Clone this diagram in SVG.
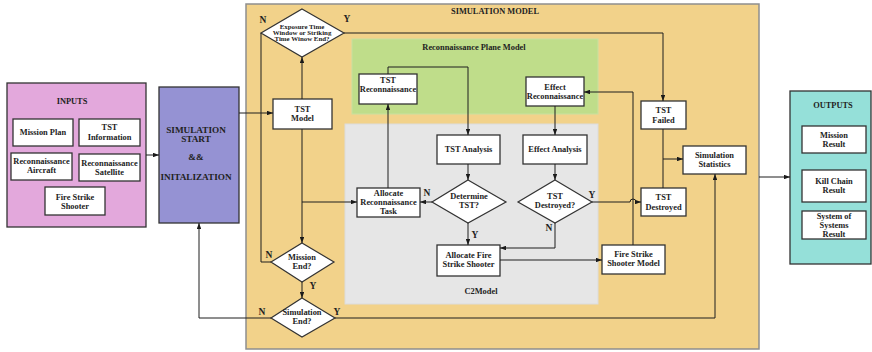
<svg xmlns="http://www.w3.org/2000/svg" width="872" height="352" viewBox="0 0 872 352">
  <defs>
    <marker id="arr" viewBox="0 0 8 6" refX="8" refY="3" markerWidth="6" markerHeight="4.5" markerUnits="userSpaceOnUse" orient="auto">
      <path d="M0,0 L8,3 L0,6 z" fill="#1a1a1a"/>
    </marker>
  </defs>
  <style>
    text { font-family: "Liberation Serif", "Times New Roman", serif; font-weight: bold; fill: #222; text-anchor: middle; }
    .t { font-size: 8.4px; }
    .s { font-size: 6.9px; }
    .h { font-size: 9.2px; }
    .lab { font-size: 9.5px; }
    .box { fill: #ffffff; stroke: #333; stroke-width: 1.3; }
    .dia { fill: #ffffff; stroke: #333; stroke-width: 1.2; }
    .edge { fill: none; stroke: #1f1f1f; stroke-width: 1; }
  </style>

  <!-- containers -->
  <g id="simulation-model">
    <rect x="246" y="4" width="513" height="345" fill="#f2d28a" stroke="#8e8e8e" stroke-width="1.5"/>
    <text class="t" x="495" y="14">SIMULATION   MODEL</text>
  </g>
  <g id="recon-plane-model">
    <rect x="352" y="39" width="246" height="75" fill="#bfdd8a" stroke="#c8e0a0" stroke-width="1"/>
    <text class="t" x="474" y="50">Reconnaissance Plane Model</text>
  </g>
  <g id="c2-model">
    <rect x="345" y="124" width="253" height="180" fill="#e6e6e6" stroke="#dcdcdc" stroke-width="1"/>
    <text class="t" x="481" y="294">C2Model</text>
  </g>

  <!-- inputs -->
  <g id="inputs">
    <rect x="7" y="83" width="139" height="144" fill="#e3a8dc" stroke="#333" stroke-width="1.3"/>
    <text class="t" x="72" y="104">INPUTS</text>
  </g>
  <g id="mission-plan">
    <rect class="box" x="13" y="119" width="60" height="27"/>
    <text class="t" x="43" y="135">Mission Plan</text>
  </g>
  <g id="tst-information">
    <rect class="box" x="79" y="119" width="61" height="27"/>
    <text class="t" x="109.5" y="130">TST</text>
    <text class="t" x="109.5" y="140">Information</text>
  </g>
  <g id="recon-aircraft">
    <rect class="box" x="11" y="153" width="61" height="27"/>
    <text class="t" x="41.5" y="164">Reconnaissance</text>
    <text class="t" x="41.5" y="173">Aircraft</text>
  </g>
  <g id="recon-satellite">
    <rect class="box" x="79" y="154" width="61" height="27"/>
    <text class="t" x="109.5" y="166">Reconnaissance</text>
    <text class="t" x="109.5" y="175">Satellite</text>
  </g>
  <g id="fire-strike-shooter">
    <rect class="box" x="45" y="187" width="60" height="28"/>
    <text class="t" x="75" y="200">Fire Strike</text>
    <text class="t" x="75" y="209">Shooter</text>
  </g>

  <!-- simulation start -->
  <g id="simulation-start">
    <rect x="159" y="87" width="80" height="136" fill="#9592d3" stroke="#333" stroke-width="1.3"/>
    <text class="h" x="196" y="133">SIMULATION</text>
    <text class="h" x="196" y="142">START</text>
    <text class="h" x="196" y="160">&amp;&amp;</text>
    <text class="h" x="196" y="180">INITALIZATION</text>
  </g>

  <!-- simulation model nodes -->
  <g id="exposure-end">
    <polygon class="dia" points="302,9 344,33 302,57 261,33"/>
    <text class="s" x="302" y="29">Exposure Time</text>
    <text class="s" x="302" y="35">Window or Striking</text>
    <text class="s" x="302" y="41">Time Winow End?</text>
  </g>
  <g id="tst-model">
    <rect class="box" x="273" y="99" width="59" height="30"/>
    <text class="t" x="302.5" y="112">TST</text>
    <text class="t" x="302.5" y="121">Model</text>
  </g>
  <g id="mission-end">
    <polygon class="dia" points="302,243 334,262 302,282 271,262"/>
    <text class="t" x="302" y="260">Mission</text>
    <text class="t" x="302" y="269">End?</text>
  </g>
  <g id="simulation-end">
    <polygon class="dia" points="302,298 335,318 302,337 271,318"/>
    <text class="t" x="302" y="315">Simulation</text>
    <text class="t" x="302" y="324">End?</text>
  </g>
  <g id="tst-reconnaissance">
    <rect class="box" x="359" y="74" width="58" height="30"/>
    <text class="t" x="388" y="83">TST</text>
    <text class="t" x="388" y="92">Reconnaissance</text>
  </g>
  <g id="effect-reconnaissance">
    <rect class="box" x="526" y="77" width="58" height="29"/>
    <text class="t" x="555" y="90">Effect</text>
    <text class="t" x="555" y="99">Reconnaissance</text>
  </g>
  <g id="tst-analysis">
    <rect class="box" x="437" y="135" width="63" height="29"/>
    <text class="t" x="468.5" y="152">TST Analysis</text>
  </g>
  <g id="effect-analysis">
    <rect class="box" x="523" y="135" width="64" height="29"/>
    <text class="t" x="555" y="152">Effect Analysis</text>
  </g>
  <g id="determine-tst">
    <polygon class="dia" points="468,180 506,202 468,223 432,202"/>
    <text class="t" x="469" y="199">Determine</text>
    <text class="t" x="469" y="208">TST?</text>
  </g>
  <g id="tst-destroyed-q">
    <polygon class="dia" points="555,180 592,202 555,223 518,202"/>
    <text class="t" x="555" y="199">TST</text>
    <text class="t" x="555" y="208">Destroyed?</text>
  </g>
  <g id="allocate-recon-task">
    <rect class="box" x="357" y="188" width="63" height="29"/>
    <text class="t" x="388.5" y="196">Allocate</text>
    <text class="t" x="388.5" y="205">Reconnaissance</text>
    <text class="t" x="388.5" y="214">Task</text>
  </g>
  <g id="allocate-fire-strike">
    <rect class="box" x="437" y="245" width="63" height="31"/>
    <text class="t" x="468.5" y="258">Allocate Fire</text>
    <text class="t" x="468.5" y="267">Strike Shooter</text>
  </g>
  <g id="fire-strike-shooter-model">
    <rect class="box" x="602" y="245" width="63" height="29"/>
    <text class="t" x="633.5" y="257">Fire Strike</text>
    <text class="t" x="633.5" y="266">Shooter Model</text>
  </g>
  <g id="tst-failed">
    <rect class="box" x="641" y="101" width="45" height="28"/>
    <text class="t" x="663.5" y="113">TST</text>
    <text class="t" x="663.5" y="123">Failed</text>
  </g>
  <g id="tst-destroyed">
    <rect class="box" x="641" y="188" width="45" height="28"/>
    <text class="t" x="663.5" y="200">TST</text>
    <text class="t" x="663.5" y="210">Destroyed</text>
  </g>
  <g id="simulation-statistics">
    <rect class="box" x="683" y="146" width="63" height="28"/>
    <text class="t" x="714.5" y="158">Simulation</text>
    <text class="t" x="714.5" y="167">Statistics</text>
  </g>

  <!-- outputs -->
  <g id="outputs">
    <rect x="790" y="91" width="81" height="173" fill="#95e0d9" stroke="#333" stroke-width="1.3"/>
    <text class="t" x="833" y="108">OUTPUTS</text>
  </g>
  <g id="mission-result">
    <rect class="box" x="802" y="126" width="64" height="27"/>
    <text class="t" x="834" y="138">Mission</text>
    <text class="t" x="834" y="147">Result</text>
  </g>
  <g id="kill-chain-result">
    <rect class="box" x="802" y="170" width="64" height="32"/>
    <text class="t" x="834" y="184">Kill Chain</text>
    <text class="t" x="834" y="193">Result</text>
  </g>
  <g id="sos-result">
    <rect class="box" x="802" y="211" width="64" height="28"/>
    <text class="t" x="834" y="219">System of</text>
    <text class="t" x="834" y="228">Systems</text>
    <text class="t" x="834" y="237">Result</text>
  </g>

  <!-- connectors -->
  <g id="connectors">
    <path class="edge" d="M146,155 L159,155" marker-end="url(#arr)"/>
    <path class="edge" d="M239,113 L273,113" marker-end="url(#arr)"/>
    <path class="edge" d="M302,99 L302,57" marker-end="url(#arr)"/>
    <path class="edge" d="M261,33 L261,262 L271,262"/>
    <path class="edge" d="M344,33 L663,33 L663,101" marker-end="url(#arr)"/>
    <path class="edge" d="M302,129 L302,243" marker-end="url(#arr)"/>
    <path class="edge" d="M302,202 L357,202" marker-end="url(#arr)"/>
    <path class="edge" d="M302,282 L302,298" marker-end="url(#arr)"/>
    <path class="edge" d="M271,318 L199,318 L199,223" marker-end="url(#arr)"/>
    <path class="edge" d="M335,318 L715,318 L715,174" marker-end="url(#arr)"/>
    <path class="edge" d="M388,74 L388,67 L468,67 L468,135" marker-end="url(#arr)"/>
    <path class="edge" d="M555,106 L555,135" marker-end="url(#arr)"/>
    <path class="edge" d="M468,164 L468,180" marker-end="url(#arr)"/>
    <path class="edge" d="M555,164 L555,180" marker-end="url(#arr)"/>
    <path class="edge" d="M432,202 L420,202" marker-end="url(#arr)"/>
    <path class="edge" d="M388,188 L388,104" marker-end="url(#arr)"/>
    <path class="edge" d="M468,223 L468,245" marker-end="url(#arr)"/>
    <path class="edge" d="M555,223 L555,248 L500,248" marker-end="url(#arr)"/>
    <path class="edge" d="M500,260 L602,260" marker-end="url(#arr)"/>
    <path class="edge" d="M592,202 L630,202 A3,3 0 0 1 636,202 L641,202" marker-end="url(#arr)"/>
    <path class="edge" d="M633,245 L633,92 L584,92" marker-end="url(#arr)"/>
    <path class="edge" d="M663,129 L663,188"/>
    <path class="edge" d="M663,159 L683,159" stroke-width="1.5" marker-end="url(#arr)"/>
    <path class="edge" d="M759,177 L790,177" marker-end="url(#arr)"/>
  </g>

  <!-- branch labels -->
  <g id="branch-labels">
    <text class="lab" x="263" y="23">N</text>
    <text class="lab" x="347" y="22">Y</text>
    <text class="lab" x="427" y="196">N</text>
    <text class="lab" x="475" y="238">Y</text>
    <text class="lab" x="592" y="198">Y</text>
    <text class="lab" x="549" y="231">N</text>
    <text class="lab" x="269" y="258">N</text>
    <text class="lab" x="313" y="289">Y</text>
    <text class="lab" x="262" y="315">N</text>
    <text class="lab" x="337" y="315">Y</text>
  </g>
</svg>
